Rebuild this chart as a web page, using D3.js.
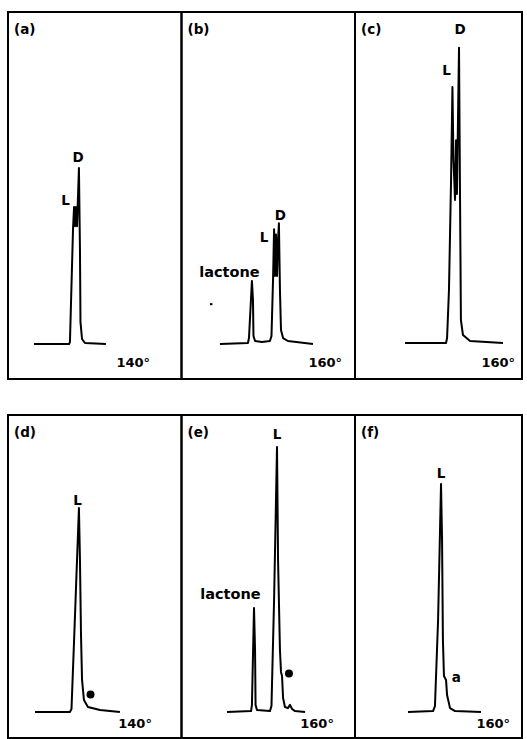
<!DOCTYPE html>
<html>
<head>
<meta charset="utf-8">
<script src="https://cdn.jsdelivr.net/npm/d3@7"></script>
<style>
  body { margin: 0; background: #fff; }
  svg text { font-family: "DejaVu Sans", sans-serif; font-weight: bold; fill: #000; }
</style>
</head>
<body>
<svg id="chart" width="527" height="739"></svg>
<script>
// chromatogram traces, x = retention (0-100 across a panel), y = detector response (0-100)
var traceA = [[15.0,0],[35.3,0],[35.8,0.6],[37.6,34.9],[38.2,41.3],[38.7,35.5],[39.3,41.3],[39.9,35.5],[41.0,53.0],[41.6,28.3],[41.9,6.6],[42.8,1.5],[44.5,0.3],[56.6,0]];
var traceB = [[22.5,0],[38.7,0.3],[39.3,1.8],[41.0,19.0],[41.6,13.3],[41.9,2.4],[42.8,0.9],[46.8,0.6],[51.4,0.9],[52.3,2.4],[53.2,19.3],[53.8,34.6],[54.3,20.5],[54.9,33.0],[55.5,20.5],[56.1,31.3],[56.6,36.4],[57.2,16.3],[57.8,4.2],[59.0,1.8],[61.8,0.9],[76.3,0]];
var traceC = [[29.5,0.3],[53.2,0.3],[53.8,1.8],[54.9,16.3],[56.1,49.4],[56.9,77.4],[57.5,55.4],[58.4,43.4],[59.0,61.4],[59.5,45.2],[60.7,89.2],[61.3,43.4],[61.8,7.2],[63.0,2.7],[67.1,0.9],[86.1,0.3]];
var traceD = [[15.6,0],[35.8,0],[36.7,1.0],[38.2,24.2],[41.0,68.7],[41.6,51.2],[42.2,25.9],[42.8,10.8],[43.9,4.0],[46.2,1.7],[53.2,0.7],[64.7,0]];
var traceE = [[26.6,0],[40.5,0.3],[41.0,2.4],[42.2,35.0],[42.8,20.9],[43.1,2.4],[43.9,0.7],[51.4,0.3],[52.3,2.0],[53.8,37.7],[55.5,89.2],[56.1,51.2],[57.2,20.9],[57.8,13.5],[58.4,12.1],[59.0,4.7],[60.1,1.7],[61.8,1.3],[63.0,2.4],[64.2,1.0],[65.9,0.3],[71.7,0]];
var traceF = [[31.2,0],[45.7,0.3],[46.8,2.0],[48.6,31.0],[50.3,76.8],[50.9,57.9],[51.4,24.2],[52.0,12.1],[53.2,10.8],[53.8,5.7],[55.5,1.3],[58.4,0.3],[73.4,0]];

var panelNames = ["(a)", "(b)", "(c)", "(d)", "(e)", "(f)"];
var traces = [traceA, traceB, traceC, traceD, traceE, traceF];
var temps = ["140°", "160°", "160°", "140°", "160°", "160°"];
var tempX = [82.1, 93.1, 93.1, 83.2, 88.4, 90.2];

// peak labels: [panel, text, x, y]
var peakLabels = [
  [0, "L", 33.2, 41.9], [0, "D", 40.5, 54.8],
  [1, "lactone", 28.0, 20.2], [1, "L", 48.0, 30.7], [1, "D", 57.5, 37.3],
  [2, "L", 53.5, 81.0], [2, "D", 61.3, 93.4],
  [3, "L", 40.2, 69.7],
  [4, "lactone", 28.6, 38.0], [4, "L", 55.5, 91.9],
  [5, "L", 50.3, 78.8], [5, "a", 59.2, 10.1]
];
// impurity dots: [panel, x, y]
var dots = [[3, 47.7, 5.9], [4, 62.4, 13.0]];
var specks = [[1, 17.3, 12.0]];

var svg = d3.select("#chart");

var colEdges = [[8, 181.5], [181.5, 355], [355, 522]];
var colStart = [8, 181, 354];
var rows = [
  {top: 12, bottom: 379, base: 344, y100: 12},
  {top: 415, bottom: 738, base: 712, y100: 415}
];

function xScale(i) {
  var c = i % 3;
  return d3.scaleLinear().domain([0, 100]).range([colStart[c], colStart[c] + 173]);
}
function yScale(i) {
  var r = rows[Math.floor(i / 3)];
  return d3.scaleLinear().domain([0, 100]).range([r.base, r.y100]);
}

// frames
rows.forEach(function(r) {
  colEdges.forEach(function(c) {
    svg.append("rect")
      .attr("x", c[0]).attr("y", r.top)
      .attr("width", c[1] - c[0]).attr("height", r.bottom - r.top)
      .attr("fill", "none").attr("stroke", "#000").attr("stroke-width", 2);
  });
});

traces.forEach(function(t, i) {
  var x = xScale(i), y = yScale(i);
  var r = rows[Math.floor(i / 3)];
  var c = colEdges[i % 3];
  var line = d3.line().x(function(d){ return x(d[0]); }).y(function(d){ return y(d[1]); });
  svg.append("path")
    .datum(t)
    .attr("d", line)
    .attr("fill", "none")
    .attr("stroke", "#000")
    .attr("stroke-width", 2)
    .attr("stroke-linejoin", "round");

  svg.append("text")
    .attr("x", c[0] + 6).attr("y", r.top + 22)
    .attr("font-size", 13.5)
    .text(panelNames[i]);

  svg.append("text")
    .attr("x", x(tempX[i])).attr("y", y(Math.floor(i / 3) == 0 ? -6.9 : -5.4))
    .attr("text-anchor", "end")
    .attr("font-size", 13)
    .text(temps[i]);
});

peakLabels.forEach(function(d) {
  var x = xScale(d[0]), y = yScale(d[0]);
  svg.append("text")
    .attr("x", x(d[2])).attr("y", y(d[3]))
    .attr("text-anchor", "middle")
    .attr("font-size", d[1] == "lactone" ? 14.5 : 13.5)
    .text(d[1]);
});

dots.forEach(function(d) {
  var x = xScale(d[0]), y = yScale(d[0]);
  svg.append("circle")
    .attr("cx", x(d[1])).attr("cy", y(d[2]))
    .attr("r", 4).attr("fill", "#000");
});

specks.forEach(function(d) {
  var x = xScale(d[0]), y = yScale(d[0]);
  svg.append("rect")
    .attr("x", x(d[1]) - 1).attr("y", y(d[2]) - 1)
    .attr("width", 2.5).attr("height", 2).attr("fill", "#000");
});
</script>
</body>
</html>
